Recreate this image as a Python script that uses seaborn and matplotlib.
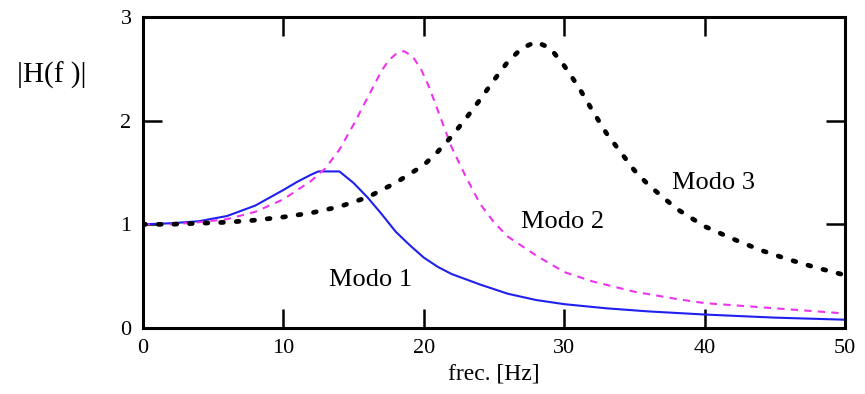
import matplotlib
matplotlib.use("Agg")
import matplotlib.pyplot as plt
import seaborn as sns

# Values
f1 = [0, 2, 4, 6, 8, 10, 11, 12, 12.5, 14, 15, 16, 17, 18, 19, 20, 21, 22, 24, 26, 28, 30, 33, 36, 40, 45, 50]
h1 = [1.00, 1.01, 1.03, 1.08, 1.18, 1.33, 1.41, 1.48, 1.51, 1.51, 1.40, 1.26, 1.10, 0.93, 0.80, 0.68, 0.59, 0.52,
      0.42, 0.33, 0.27, 0.23, 0.19, 0.16, 0.13, 0.10, 0.08]

f2 = [0, 2, 4, 6, 8, 10, 12, 13, 14, 15, 16, 17, 17.5, 18, 18.6, 19.2, 19.8, 20.4, 21, 22, 23, 24, 25, 26, 28, 30,
      32, 35, 38, 40, 44, 47, 50]
h2 = [1.00, 1.00, 1.02, 1.05, 1.12, 1.24, 1.42, 1.54, 1.72, 1.96, 2.22, 2.48, 2.58, 2.64, 2.67, 2.62, 2.50, 2.32,
      2.10, 1.74, 1.46, 1.20, 1.02, 0.88, 0.70, 0.54, 0.45, 0.35, 0.28, 0.24, 0.20, 0.17, 0.14]

f3 = [0, 2, 4, 6, 8, 10, 12, 14, 16, 18, 20, 21, 22, 23, 24, 25, 26, 27, 28, 29, 30, 31, 32, 33, 34, 35, 36, 38,
      40, 42, 44, 46, 48, 50]
h3 = [1.00, 1.00, 1.01, 1.02, 1.04, 1.07, 1.11, 1.17, 1.26, 1.40, 1.57, 1.70, 1.85, 2.02, 2.20, 2.39, 2.57, 2.70,
      2.76, 2.70, 2.53, 2.33, 2.10, 1.88, 1.70, 1.52, 1.38, 1.15, 0.98, 0.86, 0.75, 0.66, 0.58, 0.51]

labels = ["Modo 1", "Modo 2", "Modo 3"]
label_pos = [(16.2, 0.46), (29.9, 1.02), (40.6, 1.40)]

sns.set_style("white")
plt.rcParams['font.family'] = ['Liberation Serif', 'DejaVu Serif']
plt.rcParams['text.color'] = 'black'

fig = plt.figure(figsize=(8.65, 3.94), dpi=100)
ax = fig.add_axes([0.165, 0.1675, 0.812, 0.7895])

sns.lineplot(x=f1, y=h1, ax=ax, color="#1f1ff0", linewidth=1.5)
sns.lineplot(x=f2, y=h2, ax=ax, color="#ee33ee", linewidth=1.5)
ax.lines[-1].set_dashes((3.5, 3))
sns.lineplot(x=f3, y=h3, ax=ax, color="black", linewidth=3.4)
ax.lines[-1].set_dashes((0.6, 2.7))
ax.lines[-1].set_dash_capstyle("round")

for txt, (x, y) in zip(labels, label_pos):
    ax.text(x, y, txt, fontsize=19, ha="center", va="center", color="black")

ax.set_xlim(0, 50)
ax.set_ylim(0, 3)
ax.set_xticks([0, 10, 20, 30, 40, 50])
ax.set_yticks([0, 1, 2, 3])
ax.tick_params(direction="in", length=14, width=1.8, top=True, right=True,
               bottom=True, left=True, labelsize=16, pad=8,
               color="black", labelcolor="black")
for s in ax.spines.values():
    s.set_linewidth(2.2)
    s.set_color("black")

ax.set_xlabel("frec. [Hz]", fontsize=17, labelpad=4, color="black")
ax.set_ylabel("")
fig.text(0.06, 0.81, "|H(f )|", fontsize=21, ha="center", va="center", color="black")

fig.savefig("out.png", dpi=100)
